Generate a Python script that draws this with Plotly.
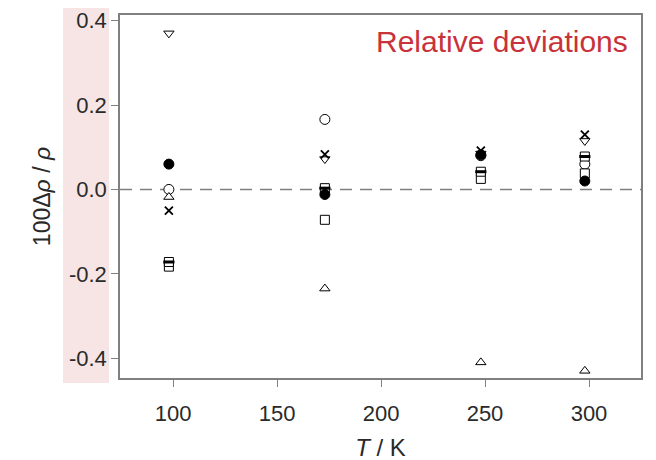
import plotly.graph_objects as go

T = [98, 173, 248, 298]
tri_down = [0.37, 0.072, 0.085, 0.115]
circle_open = [0.0, 0.166, 0.08, 0.06]
tri_up = [-0.018, -0.235, -0.41, -0.43]
cross = [-0.05, 0.083, 0.092, 0.13]
square_open = [-0.183, -0.072, 0.025, 0.038]
circle_filled = [0.06, -0.012, 0.082, 0.02]
square_half = [-0.172, 0.003, 0.042, 0.078]

xticks = [100, 150, 200, 250, 300]
yticks = [-0.4, -0.2, 0.0, 0.2, 0.4]
yticklabels = ["-0.4", "-0.2", "0.0", "0.2", "0.4"]

FONT = "Liberation Sans, Arial, sans-serif"
LC = "black"

fig = go.Figure()

def add(y, symbol, size=8, fill="white", lw=1, color=None):
    fig.add_trace(go.Scatter(
        x=T, y=y, mode="markers",
        marker=dict(symbol=symbol, size=size, color=color or fill,
                    line=dict(color=LC, width=lw)),
        showlegend=False, hoverinfo="skip"))

add(tri_down, "triangle-down", 9)
add(circle_open, "circle", 10)
add(tri_up, "triangle-up", 9)
add(cross, "x-thin-open", 8, lw=1.8, color="black")
add(square_open, "square", 9)
add(square_half, "square", 9)
add(square_half, "line-ew-open", 8, lw=3, color="black")
add(circle_filled, "circle", 10, fill="black")

W, H = 656, 460
OFF = 8  # page offset of the plot div
# reference pixel positions of the plot frame
PL, PR, PT, PB = 120, 641, 15, 378
L = PL - OFF
TOP = PT - OFF
R = W - (PR - OFF)
B = H - (PB - OFF)
pw = PR - PL
ph = PB - PT

def px(x):
    return (x - PL) / pw

def py(y):
    return (PB - y) / ph

# pink band behind y tick labels
fig.add_shape(type="rect", xref="paper", yref="paper",
              x0=px(63), x1=px(109), y0=py(383), y1=py(5),
              fillcolor="#f7e5e5", line=dict(width=0), layer="below")
# dashed zero reference line
fig.add_shape(type="line", xref="paper", yref="y", x0=0, x1=1, y0=0, y1=0,
              line=dict(color="#808080", width=1.5, dash="12px,8px"), layer="below")

fig.add_annotation(text="Relative deviations", xref="paper", yref="paper",
                   x=px(630), y=py(42), xanchor="right", yanchor="middle",
                   showarrow=False, font=dict(family=FONT, size=30, color="#c8323a"))

fig.update_layout(
    width=W, height=H,
    margin=dict(l=L, r=R, t=TOP, b=B),
    paper_bgcolor="white", plot_bgcolor="white",
    font=dict(family=FONT, size=22, color="#2a2a2a"),
    xaxis=dict(range=[74.5, 325], tickvals=xticks, ticks="outside", ticklen=7,
               tickcolor="#808080", showline=True, linecolor="#808080", linewidth=1.5,
               mirror=True, showgrid=False, zeroline=False, ticklabelstandoff=8,
               automargin=False,
               title=dict(text="<i>T</i> / K", font=dict(size=24), standoff=14)),
    yaxis=dict(range=[-0.447, 0.4135], tickvals=yticks, ticktext=yticklabels,
               ticks="outside", ticklen=7, tickcolor="#808080", showline=True,
               linecolor="#808080", linewidth=1.5, mirror=True, showgrid=False,
               zeroline=False, automargin=False,
               title=dict(text="100Δ<i>ρ</i> / <i>ρ</i>", font=dict(size=23), standoff=12)),
)

fig.write_html("out.html")
